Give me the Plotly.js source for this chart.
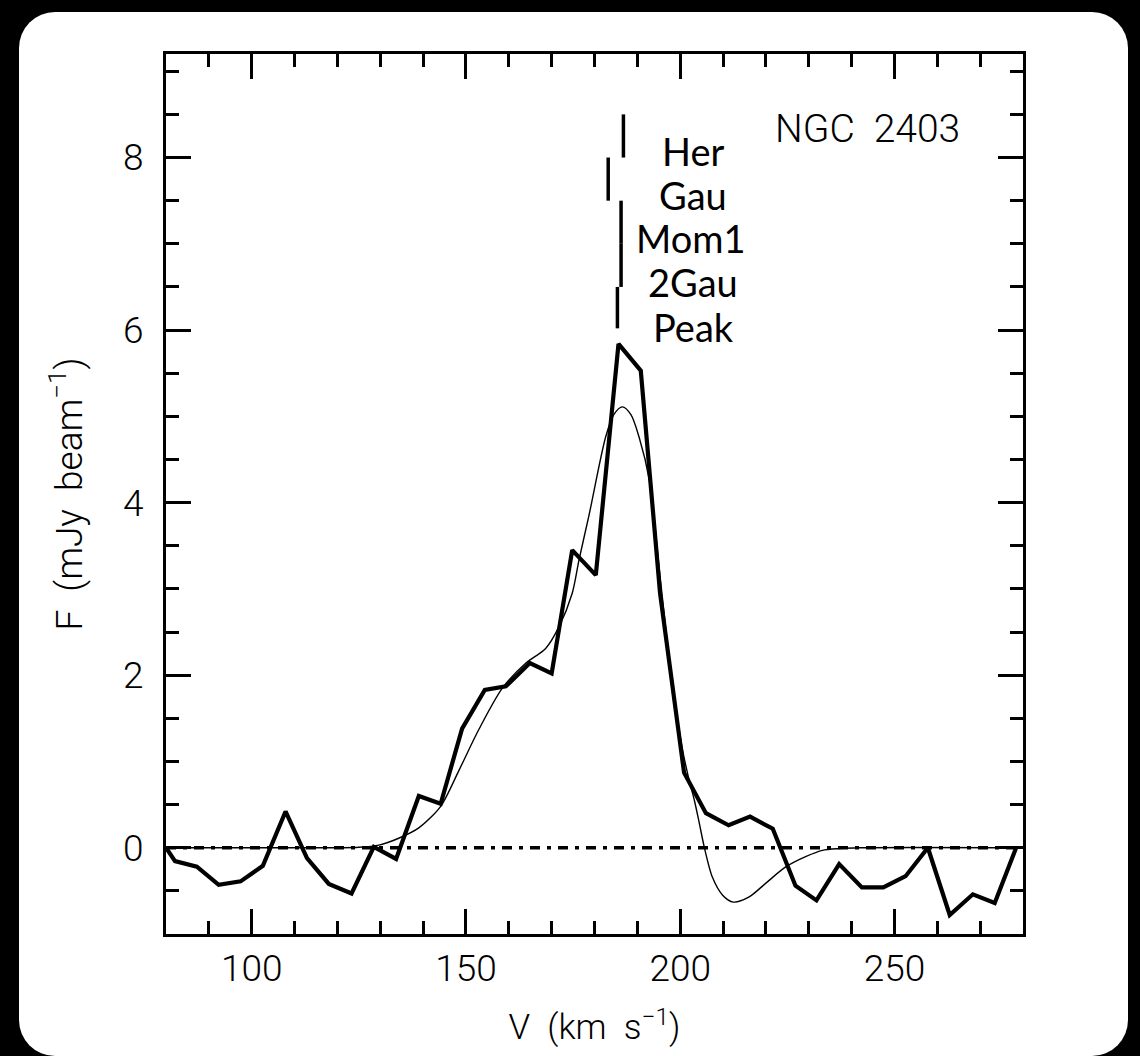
<!DOCTYPE html>
<html>
<head>
<meta charset="utf-8">
<script src="https://cdn.plot.ly/plotly-3.0.1.min.js"></script>
<style>
  html, body { margin: 0; padding: 0; background: #000; width: 1140px; height: 1056px; overflow: hidden; }
  #card { position: absolute; left: 19px; top: 12px; width: 1109px; height: 1044px; background: #fff; border-radius: 36px; }
  #chart { position: absolute; left: 0; top: 0; width: 1140px; height: 1056px; }
</style>
</head>
<body>
<div id="card"></div>
<div id="chart"></div>
<script>
// Observed spectrum (velocity in km/s, flux in mJy/beam)
const velocity = [80, 82.1, 87.2, 92.3, 97.4, 102.6, 107.9, 112.9, 118.0, 123.3, 128.5, 133.7, 139.0, 144.1,
  149.1, 154.4, 159.3, 164.9, 170.0, 174.8, 180.3, 185.6, 190.8, 195.3, 200.9, 206.0, 211.3, 216.3, 221.6,
  226.9, 231.8, 237.1, 242.4, 247.4, 252.6, 257.8, 262.9, 268.3, 273.4, 278.4];
const flux = [0, -0.155, -0.22, -0.43, -0.39, -0.21, 0.42, -0.12, -0.42, -0.53, 0.01, -0.13, 0.60, 0.51,
  1.38, 1.83, 1.87, 2.14, 2.02, 3.45, 3.16, 5.84, 5.53, 2.95, 0.87, 0.40, 0.26, 0.36, 0.22,
  -0.44, -0.61, -0.19, -0.46, -0.46, -0.33, 0.0, -0.78, -0.54, -0.64, 0.0];

// Fitted profile (thin curve)
const fitV = [80, 120, 125, 129.7, 134.3, 139.0, 144.1, 148.4, 153.0, 158.5, 164.0, 168.6, 171.7, 174.8, 176.4,
  178.7, 182.6, 184.5, 186.5, 188.5, 190.4, 192.8, 195.4, 198.0, 200.5, 202.0, 203.3, 204.4, 205.6, 207.5,
  209.9, 212.4, 216.1, 220.0, 224.7, 229.4, 233.2, 237.1, 242.0, 280];
const fitF = [0, 0, 0.005, 0.03, 0.11, 0.23, 0.48, 0.90, 1.37, 1.85, 2.14, 2.31, 2.56, 2.95, 3.34,
  3.85, 4.76, 5.02, 5.11, 5.02, 4.76, 4.26, 3.10, 1.95, 1.15, 0.80, 0.55, 0.30, 0.01, -0.34,
  -0.55, -0.63, -0.57, -0.41, -0.22, -0.10, -0.03, -0.01, 0, 0];

// Zero reference line
const zeroV = [80, 280];
const zeroF = [0, 0];

// Systemic velocity estimators: name, velocity, marker segment low/high
const methodNames = ["Her", "Gau", "Mom1", "2Gau", "Peak"];
const methodV = [186.75, 183.2, 186.2, 186.2, 185.35];
const markLow = [8.0, 7.5, 7.0, 6.5, 6.02];
const markHigh = [8.5, 8.0, 7.5, 7.0, 6.5];
const labelV = [203.0, 203.0, 202.5, 203.0, 203.0];
const labelF = [8.08, 7.57, 7.07, 6.56, 6.04];

const galaxy = "NGC\u00a0\u00a02403";
const galaxyV = 243.6;
const galaxyF = 8.33;

const xTicks = [100, 150, 200, 250];
const yTicks = [0, 2, 4, 6, 8];

const xTitle = "V\u00a0\u00a0(km\u00a0\u00a0s<sup>−1</sup>)";
const yTitle = "F\u00a0\u00a0(mJy\u00a0\u00a0beam<sup>−1</sup>)";

const segX = [], segY = [];
for (let i = 0; i < methodV.length; i++) {
  segX.push(methodV[i], methodV[i], null);
  segY.push(markLow[i], markHigh[i], null);
}

const traces = [
  { x: zeroV, y: zeroF, mode: 'lines', line: { color: '#000', width: 3.5, dash: '10px,7px,4px,7px' }, hoverinfo: 'skip' },
  { x: fitV, y: fitF, mode: 'lines', line: { color: '#000', width: 1.4, shape: 'spline', smoothing: 0.8 }, hoverinfo: 'skip' },
  { x: velocity, y: flux, mode: 'lines', line: { color: '#000', width: 4.2 }, hoverinfo: 'skip' },
  { x: segX, y: segY, mode: 'lines', line: { color: '#000', width: 3.5 }, hoverinfo: 'skip' }
];

const thinFamily = 'Roboto, "DejaVu Sans", sans-serif';
const tickFont = { family: thinFamily, size: 37, color: '#000', weight: 300 };
const labelFont = { family: 'Lato, "Open Sans", sans-serif', size: 38, color: '#000' };

const annotations = methodNames.map((n, i) => ({
  x: labelV[i], y: labelF[i], text: n, showarrow: false, xanchor: 'center', yanchor: 'middle', font: labelFont
}));
annotations.push({
  x: galaxyV, y: galaxyF, text: galaxy, showarrow: false, xanchor: 'center', yanchor: 'middle',
  font: { family: thinFamily, size: 39, color: '#000', weight: 300 }
});

const axisCommon = {
  showline: true, linecolor: '#000', linewidth: 3, mirror: 'allticks',
  ticks: 'inside', ticklen: 25, tickwidth: 3, tickcolor: '#000',
  showgrid: false, zeroline: false, tickfont: tickFont, automargin: false
};

const layout = {
  width: 1140, height: 1056,
  paper_bgcolor: 'rgba(0,0,0,0)', plot_bgcolor: '#fff',
  margin: { l: 166, r: 117, t: 54, b: 122 },
  showlegend: false,
  xaxis: Object.assign({}, axisCommon, {
    range: [80, 280], tickvals: xTicks, ticktext: xTicks.map(String),
    minor: { dtick: 10, tick0: 80, ticks: 'inside', ticklen: 13, tickwidth: 3, tickcolor: '#000' },
    title: { text: xTitle, font: { family: thinFamily, size: 35, color: '#000', weight: 300 }, standoff: 26 }
  }),
  yaxis: Object.assign({}, axisCommon, {
    range: [-1, 9.2], tickvals: yTicks, ticktext: yTicks.map(String), ticklabelstandoff: 12,
    minor: { dtick: 0.5, tick0: 0, ticks: 'inside', ticklen: 13, tickwidth: 3, tickcolor: '#000' },
    title: { text: yTitle, font: { family: thinFamily, size: 37, color: '#000', weight: 300 }, standoff: 30 }
  }),
  annotations: annotations
};

Plotly.newPlot('chart', traces, layout, { displayModeBar: false, staticPlot: true });
</script>
</body>
</html>
